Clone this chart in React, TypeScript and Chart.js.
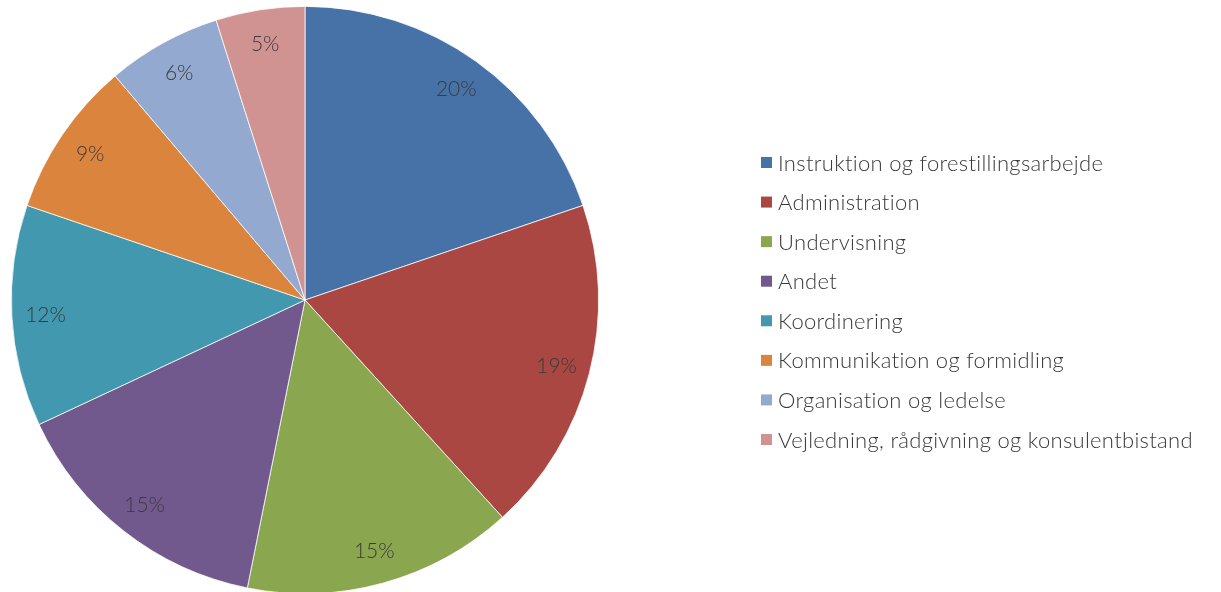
import React, { useEffect, useRef } from "react";
import { Chart, registerables } from "chart.js";

Chart.register(...registerables);

const categories = [
  "Instruktion og forestillingsarbejde",
  "Administration",
  "Undervisning",
  "Andet",
  "Koordinering",
  "Kommunikation og formidling",
  "Organisation og ledelse",
  "Vejledning, rådgivning og konsulentbistand",
];
const shares = [19.8, 18.5, 14.9, 14.9, 12.2, 8.6, 6.3, 4.9];
const shareLabels = ["20%", "19%", "15%", "15%", "12%", "9%", "6%", "5%"];
const colors = ["#4672A8", "#AA4743", "#8AA64E", "#71598E", "#4198AF", "#DB843D", "#94A9CF", "#D19392"];

const FONT = "Lato, 'Open Sans', sans-serif";
const TEXT = "#3a3a3a";

const sliceLabels = {
  id: "sliceLabels",
  afterDatasetsDraw(chart: any) {
    const ctx = chart.ctx;
    const meta = chart.getDatasetMeta(0);
    ctx.save();
    ctx.font = `300 21px ${FONT}`;
    ctx.fillStyle = TEXT;
    ctx.textAlign = "center";
    ctx.textBaseline = "middle";
    meta.data.forEach((arc: any, i: number) => {
      const p = arc.getProps(["x", "y", "startAngle", "endAngle", "outerRadius"], true);
      const mid = (p.startAngle + p.endAngle) / 2;
      const r = p.outerRadius * 0.885;
      ctx.fillText(shareLabels[i], p.x + Math.cos(mid) * r, p.y + Math.sin(mid) * r + 1);
    });
    ctx.restore();
  },
};

const sideLegend = {
  id: "sideLegend",
  afterDraw(chart: any) {
    const ctx = chart.ctx;
    const x0 = 761;
    const y0 = 162.5;
    const step = 39.57;
    ctx.save();
    ctx.font = `300 22px ${FONT}`;
    try {
      (ctx as any).letterSpacing = "0.3px";
    } catch (e) {}
    ctx.textBaseline = "middle";
    ctx.textAlign = "left";
    chart.data.labels.forEach((lab: string, i: number) => {
      const y = y0 + i * step;
      ctx.fillStyle = colors[i];
      ctx.fillRect(x0, y - 5.5, 11, 11);
      ctx.fillStyle = TEXT;
      ctx.fillText(lab, x0 + 17, y + 1);
    });
    ctx.restore();
  },
};

export default function App() {
  const ref = useRef<HTMLCanvasElement | null>(null);
  useEffect(() => {
    document.body.style.margin = "0";
    document.body.style.overflow = "hidden";
    const chart = new Chart(ref.current as HTMLCanvasElement, {
      type: "pie",
      data: {
        labels: categories,
        datasets: [
          {
            data: shares,
            backgroundColor: colors,
            borderColor: "#ffffff",
            borderWidth: 0.75,
            hoverOffset: 0,
            offset: 0,
          },
        ],
      },
      options: {
        animation: false,
        responsive: true,
        maintainAspectRatio: false,
        layout: { padding: { top: 6, bottom: 6, left: 0, right: 611 } },
        plugins: {
          legend: { display: false },
          tooltip: { enabled: false },
        },
      },
      plugins: [sliceLabels, sideLegend],
    });
    return () => chart.destroy();
  }, []);
  return (
    <div style={{ width: 1221, height: 600, position: "relative" }}>
      <canvas ref={ref} />
    </div>
  );
}
